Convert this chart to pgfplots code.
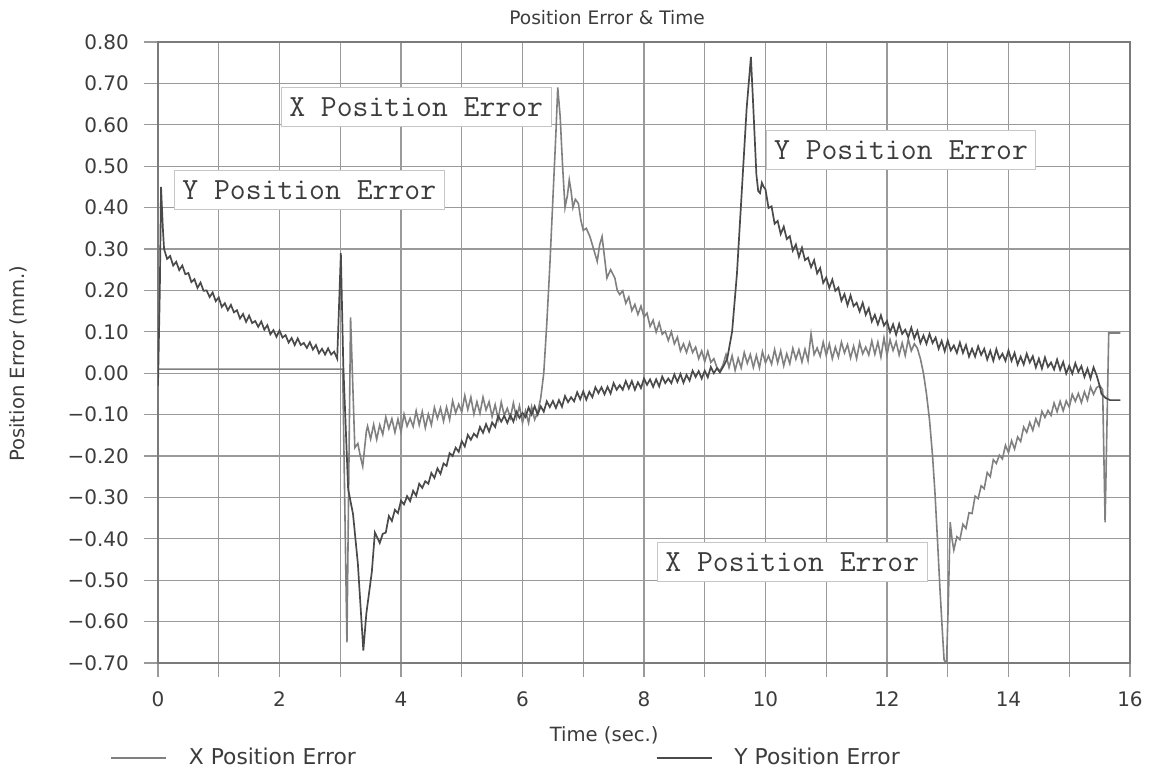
\documentclass[border=0pt]{standalone}
\usepackage{fontspec}
\setmainfont{DejaVu Sans}
\usepackage{pgfplots}
\pgfplotsset{compat=1.18}
\definecolor{xcol}{HTML}{808080}
\definecolor{ycol}{HTML}{4A4A4A}
\definecolor{gridc}{HTML}{9A9A9A}
\definecolor{txt}{HTML}{3C3C3C}
\begin{document}
\begin{tikzpicture}
\begin{axis}[name=ax, scale only axis, width=486pt, height=310.5pt,
  xmin=0, xmax=16, ymin=-0.7, ymax=0.8,
  xtick={0,2,4,6,8,10,12,14,16},
  xticklabels={0,2,4,6,8,10,12,14,16},
  minor xtick={1,3,5,7,9,11,13,15},
  ytick={-0.7,-0.6,-0.5,-0.4,-0.3,-0.2,-0.1,0,0.1,0.2,0.3,0.4,0.5,0.6,0.7,0.8},
  yticklabels={−0.70,−0.60,−0.50,−0.40,−0.30,−0.20,−0.10,0.00,0.10,0.20,0.30,0.40,0.50,0.60,0.70,0.80},
  xtick pos=bottom, ytick pos=left,
  grid=both,
  major grid style={gridc, line width=0.55pt},
  minor grid style={gridc, line width=0.55pt},
  tick align=outside, major tick length=7pt, minor tick length=7pt,
  tick style={gridc, line width=0.55pt},
  axis line style={gridc!80!black, line width=0.6pt},
  ticklabel style={font=\fontsize{10}{12}\selectfont, text=txt},
  yticklabel style={xshift=-4pt},
  xticklabel style={yshift=-3.7pt},
  every axis title shift=0pt,
  title={Position Error \& Time},
  title style={font=\fontsize{9.3}{11}\selectfont, text=txt, at={(axis description cs:0.462,1.0387)}, anchor=center},
  xlabel={Time (sec.)},
  xlabel style={font=\fontsize{9.8}{12}\selectfont, text=txt, at={(axis description cs:0.459,-0.116)}, anchor=center},
  ylabel={Position Error (mm.)},
  ylabel style={font=\fontsize{9.8}{12}\selectfont, text=txt, at={(axis description cs:-0.144,0.482)}, anchor=center},
  legend columns=2,
  legend image code/.code={\draw[#1] (0pt,0pt) -- (27.5pt,0pt);},
  legend style={draw=none, fill=none, inner sep=0pt,
    font=\fontsize{10.9}{12}\selectfont, text=txt,
    at={(axis description cs:-0.0494,-0.153)}, anchor=west,
    /tikz/every odd column/.append style={column sep=9pt},
    /tikz/every even column/.append style={column sep=148pt}},
]
\addplot[xcol, line width=0.8pt] coordinates {
(0,0.01) (3.04,0.01) (3.11,-0.65) (3.17,0.135) (3.24,-0.18) (3.29,-0.17) (3.33,-0.20) (3.37,-0.225) (3.43,-0.14)
(3.45,-0.128) (3.50,-0.159) (3.55,-0.124) (3.60,-0.160) (3.65,-0.125) (3.70,-0.148) (3.75,-0.106) (3.80,-0.134)
(3.85,-0.110) (3.90,-0.143) (3.95,-0.111) (4.00,-0.142) (4.05,-0.099) (4.10,-0.128) (4.15,-0.109) (4.20,-0.129)
(4.25,-0.091) (4.30,-0.125) (4.35,-0.093) (4.40,-0.132) (4.45,-0.099) (4.50,-0.125) (4.55,-0.083) (4.60,-0.109)
(4.65,-0.084) (4.70,-0.116) (4.75,-0.082) (4.80,-0.112) (4.85,-0.067) (4.90,-0.096) (4.95,-0.075) (5.00,-0.094)
(5.05,-0.054) (5.10,-0.088) (5.15,-0.058) (5.20,-0.099) (5.25,-0.069) (5.30,-0.097) (5.35,-0.058) (5.40,-0.089)
(5.45,-0.069) (5.50,-0.105) (5.55,-0.076) (5.60,-0.111) (5.65,-0.070) (5.70,-0.102) (5.75,-0.085) (5.80,-0.108)
(5.85,-0.072) (5.90,-0.108) (5.95,-0.079) (6.00,-0.120) (6.05,-0.091) (6.10,-0.120) (6.15,-0.081) (6.20,-0.112)
(6.25,-0.095) (6.30,-0.06) (6.35,0.0) (6.40,0.12) (6.45,0.26) (6.50,0.42) (6.55,0.58) (6.58,0.69) (6.62,0.62)
(6.66,0.50) (6.70,0.40) (6.74,0.43) (6.77,0.467) (6.80,0.44) (6.83,0.40) (6.87,0.42) (6.92,0.41) (6.96,0.37)
(7.00,0.345) (7.05,0.35) (7.11,0.33) (7.17,0.30) (7.23,0.27) (7.27,0.31) (7.31,0.33) (7.35,0.28) (7.39,0.23)
(7.45,0.25) (7.52,0.23) (7.56,0.20) (7.60,0.19)
(7.65,0.199) (7.70,0.169) (7.75,0.184) (7.80,0.151) (7.85,0.166) (7.90,0.142) (7.95,0.162) (8.00,0.136)
(8.05,0.145) (8.10,0.113) (8.15,0.128) (8.20,0.099) (8.25,0.122) (8.30,0.094) (8.35,0.101) (8.40,0.079)
(8.45,0.100) (8.50,0.071) (8.55,0.087) (8.60,0.054) (8.65,0.071) (8.70,0.050) (8.75,0.074) (8.80,0.050)
(8.85,0.063) (8.90,0.035) (8.95,0.054) (9.00,0.028) (9.05,0.053) (9.10,0.026) (9.15,0.035) (9.20,0.014)
(9.25,0.005) (9.30,0.02)
(9.35,0.045) (9.40,0.014) (9.45,0.042) (9.50,0.007) (9.55,0.036) (9.60,0.013) (9.65,0.050) (9.70,0.024)
(9.75,0.045) (9.80,0.014) (9.85,0.043) (9.90,0.013) (9.95,0.052) (10.00,0.025) (10.05,0.042) (10.10,0.022)
(10.15,0.057) (10.20,0.025) (10.25,0.054) (10.30,0.018) (10.35,0.047) (10.40,0.023) (10.45,0.060) (10.50,0.034)
(10.55,0.057) (10.60,0.027) (10.65,0.058) (10.70,0.030) (10.75,0.095) (10.80,0.045) (10.85,0.061) (10.90,0.041)
(10.95,0.075) (11.00,0.043) (11.05,0.071) (11.10,0.035) (11.15,0.063) (11.20,0.039) (11.25,0.075) (11.30,0.049)
(11.35,0.069) (11.40,0.037) (11.45,0.065) (11.50,0.035) (11.55,0.074) (11.60,0.047) (11.65,0.063) (11.70,0.044)
(11.75,0.078) (11.80,0.046) (11.85,0.075) (11.90,0.039) (11.95,0.085) (12.00,0.044) (12.05,0.081) (12.10,0.055)
(12.15,0.076) (12.20,0.044) (12.25,0.073) (12.30,0.043) (12.35,0.082) (12.40,0.054) (12.45,0.071)
(12.50,0.06) (12.55,0.035) (12.60,0.0) (12.65,-0.05) (12.70,-0.113) (12.75,-0.20) (12.79,-0.29) (12.83,-0.40)
(12.87,-0.516) (12.91,-0.62) (12.94,-0.693) (12.98,-0.70) (13.01,-0.55) (13.04,-0.36) (13.07,-0.40) (13.10,-0.427)
(13.15,-0.395) (13.20,-0.402) (13.25,-0.365) (13.30,-0.375) (13.35,-0.337) (13.40,-0.339) (13.45,-0.297) (13.50,-0.303)
(13.55,-0.272) (13.60,-0.279) (13.65,-0.240) (13.70,-0.250) (13.75,-0.209) (13.80,-0.218) (13.85,-0.198) (13.90,-0.207)
(13.95,-0.174) (14.00,-0.192) (14.05,-0.163) (14.10,-0.183) (14.15,-0.154) (14.20,-0.165) (14.25,-0.130) (14.30,-0.143)
(14.35,-0.119) (14.40,-0.138) (14.45,-0.110) (14.50,-0.127) (14.55,-0.092) (14.60,-0.107) (14.65,-0.090) (14.70,-0.102)
(14.75,-0.072) (14.80,-0.093) (14.85,-0.068) (14.90,-0.091) (14.95,-0.067) (15.00,-0.082) (15.05,-0.051) (15.10,-0.068)
(15.15,-0.049) (15.20,-0.071) (15.25,-0.045) (15.30,-0.065) (15.35,-0.033) (15.40,-0.051) (15.45,-0.035)
(15.50,-0.03) (15.55,-0.04) (15.59,-0.36) (15.65,0.097) (15.84,0.097)
};
\addlegendentry{X Position Error}
\addplot[ycol, line width=0.85pt] coordinates {
(0,-0.03) (0.03,0.2) (0.05,0.45) (0.08,0.35)
(0.10,0.300) (0.15,0.276) (0.20,0.283) (0.25,0.260) (0.30,0.269) (0.35,0.249) (0.40,0.260) (0.45,0.239)
(0.50,0.242) (0.55,0.220) (0.60,0.227) (0.65,0.206) (0.70,0.219) (0.75,0.199) (0.80,0.200) (0.85,0.184)
(0.90,0.195) (0.95,0.174) (1.00,0.183) (1.05,0.160) (1.10,0.169) (1.15,0.152) (1.20,0.165) (1.25,0.147)
(1.30,0.152) (1.35,0.132) (1.40,0.143) (1.45,0.124) (1.50,0.139) (1.55,0.121) (1.60,0.126) (1.65,0.112)
(1.70,0.125) (1.75,0.105) (1.80,0.116) (1.85,0.094) (1.90,0.104) (1.95,0.088) (2.00,0.103) (2.05,0.086)
(2.10,0.092) (2.15,0.074) (2.20,0.085) (2.25,0.068) (2.30,0.084) (2.35,0.068) (2.40,0.073) (2.45,0.061)
(2.50,0.075) (2.55,0.057) (2.60,0.068) (2.65,0.048) (2.70,0.059) (2.75,0.045) (2.80,0.060) (2.85,0.045)
(2.90,0.052) (2.95,0.035)
(3.01,0.29) (3.05,0.02) (3.13,-0.28) (3.21,-0.34) (3.29,-0.46) (3.38,-0.67) (3.43,-0.58) (3.52,-0.48)
(3.57,-0.385) (3.62,-0.40) (3.65,-0.41)
(3.70,-0.388) (3.75,-0.385) (3.80,-0.345) (3.85,-0.357) (3.90,-0.330) (3.95,-0.338) (4.00,-0.308) (4.05,-0.317)
(4.10,-0.297) (4.15,-0.309) (4.20,-0.284) (4.25,-0.296) (4.30,-0.267) (4.35,-0.277) (4.40,-0.261) (4.45,-0.267)
(4.50,-0.241) (4.55,-0.253) (4.60,-0.230) (4.65,-0.243) (4.70,-0.218) (4.75,-0.224) (4.80,-0.193) (4.85,-0.200)
(4.90,-0.180) (4.95,-0.190) (5.00,-0.164) (5.05,-0.177) (5.10,-0.149) (5.15,-0.161) (5.20,-0.146) (5.25,-0.154)
(5.30,-0.130) (5.35,-0.144) (5.40,-0.123) (5.45,-0.141) (5.50,-0.119) (5.55,-0.130) (5.60,-0.103) (5.65,-0.117)
(5.70,-0.103) (5.75,-0.120) (5.80,-0.101) (5.85,-0.117) (5.90,-0.093) (5.95,-0.108) (6.00,-0.096) (6.05,-0.106)
(6.10,-0.083) (6.15,-0.100) (6.20,-0.080) (6.25,-0.100) (6.30,-0.080) (6.35,-0.093) (6.40,-0.068) (6.45,-0.082)
(6.50,-0.067) (6.55,-0.084) (6.60,-0.065) (6.65,-0.081) (6.70,-0.055) (6.75,-0.070) (6.80,-0.058) (6.85,-0.068)
(6.90,-0.046) (6.95,-0.063) (7.00,-0.044) (7.05,-0.064) (7.10,-0.045) (7.15,-0.058) (7.20,-0.034) (7.25,-0.048)
(7.30,-0.034) (7.35,-0.051) (7.40,-0.033) (7.45,-0.049) (7.50,-0.024) (7.55,-0.040) (7.60,-0.029) (7.65,-0.040)
(7.70,-0.019) (7.75,-0.037) (7.80,-0.019) (7.85,-0.040) (7.90,-0.022) (7.95,-0.036) (8.00,-0.013) (8.05,-0.028)
(8.10,-0.015) (8.15,-0.033) (8.20,-0.015) (8.25,-0.032) (8.30,-0.008) (8.35,-0.024) (8.40,-0.013) (8.45,-0.024)
(8.50,-0.003) (8.55,-0.021) (8.60,-0.002) (8.65,-0.023) (8.70,-0.004) (8.75,-0.018) (8.80,0.006) (8.85,-0.009)
(8.90,0.005) (8.95,-0.013) (9.00,0.006) (9.05,-0.010) (9.10,0.015) (9.15,0.000) (9.20,0.012) (9.25,0.002)
(9.32,0.02) (9.37,0.035) (9.45,0.10) (9.53,0.24) (9.61,0.44) (9.69,0.64) (9.76,0.764) (9.80,0.64) (9.85,0.48)
(9.88,0.44) (9.91,0.435) (9.94,0.46) (9.97,0.45)
(10.00,0.444) (10.05,0.399) (10.10,0.403) (10.15,0.361) (10.20,0.368) (10.25,0.336) (10.30,0.354) (10.35,0.324)
(10.40,0.331) (10.45,0.296) (10.50,0.311) (10.55,0.281) (10.60,0.303) (10.65,0.273) (10.70,0.279) (10.75,0.256)
(10.80,0.273) (10.85,0.241) (10.90,0.254) (10.95,0.218) (11.00,0.231) (11.05,0.206) (11.10,0.226) (11.15,0.199)
(11.20,0.207) (11.25,0.175) (11.30,0.191) (11.35,0.164) (11.40,0.188) (11.45,0.162) (11.50,0.170) (11.55,0.149)
(11.60,0.170) (11.65,0.141) (11.70,0.157) (11.75,0.125) (11.80,0.141) (11.85,0.118) (11.90,0.140) (11.95,0.115)
(12.00,0.126) (12.05,0.099) (12.10,0.118) (12.15,0.093) (12.20,0.119) (12.25,0.095) (12.30,0.105) (12.35,0.087)
(12.40,0.110) (12.45,0.084) (12.50,0.102) (12.55,0.073) (12.60,0.091) (12.65,0.071) (12.70,0.095) (12.75,0.073)
(12.80,0.086) (12.85,0.059) (12.90,0.078) (12.95,0.053) (13.00,0.079) (13.05,0.055) (13.10,0.067) (13.15,0.049)
(13.20,0.074) (13.25,0.049) (13.30,0.068) (13.35,0.040) (13.40,0.059) (13.45,0.040) (13.50,0.065) (13.55,0.044)
(13.60,0.059) (13.65,0.033) (13.70,0.054) (13.75,0.030) (13.80,0.058) (13.85,0.035) (13.90,0.047) (13.95,0.030)
(14.00,0.055) (14.05,0.030) (14.10,0.049) (14.15,0.021) (14.20,0.040) (14.25,0.021) (14.30,0.047) (14.35,0.026)
(14.40,0.041) (14.45,0.014) (14.50,0.035) (14.55,0.011) (14.60,0.038) (14.65,0.015) (14.70,0.026) (14.75,0.009)
(14.80,0.033) (14.85,0.008) (14.90,0.027) (14.95,-0.001) (15.00,0.018) (15.05,-0.001) (15.10,0.024) (15.15,0.003)
(15.20,0.017) (15.25,-0.009) (15.30,0.011) (15.35,-0.013) (15.40,0.014)
(15.45,-0.005) (15.50,-0.03) (15.53,-0.05) (15.60,-0.06) (15.67,-0.065) (15.84,-0.065)
};
\addlegendentry{Y Position Error}
\tikzset{lbl/.style={draw=gray!45, line width=0.4pt, fill=white, inner xsep=4pt, inner ysep=5pt,
  font=\ttfamily\fontsize{15.4}{16}\selectfont, text=txt}}
\node[lbl] at (axis cs:4.25,0.643) {X Position Error};
\node[lbl] at (axis cs:2.49,0.443) {Y Position Error};
\node[lbl] at (axis cs:12.23,0.539) {Y Position Error};
\node[lbl] at (axis cs:10.44,-0.456) {X Position Error};
\end{axis}
\pgfresetboundingbox
\path[use as bounding box] (ax.south west) ++(-79pt,-54pt) rectangle ++(579pt,385.5pt);
\end{tikzpicture}
\end{document}
